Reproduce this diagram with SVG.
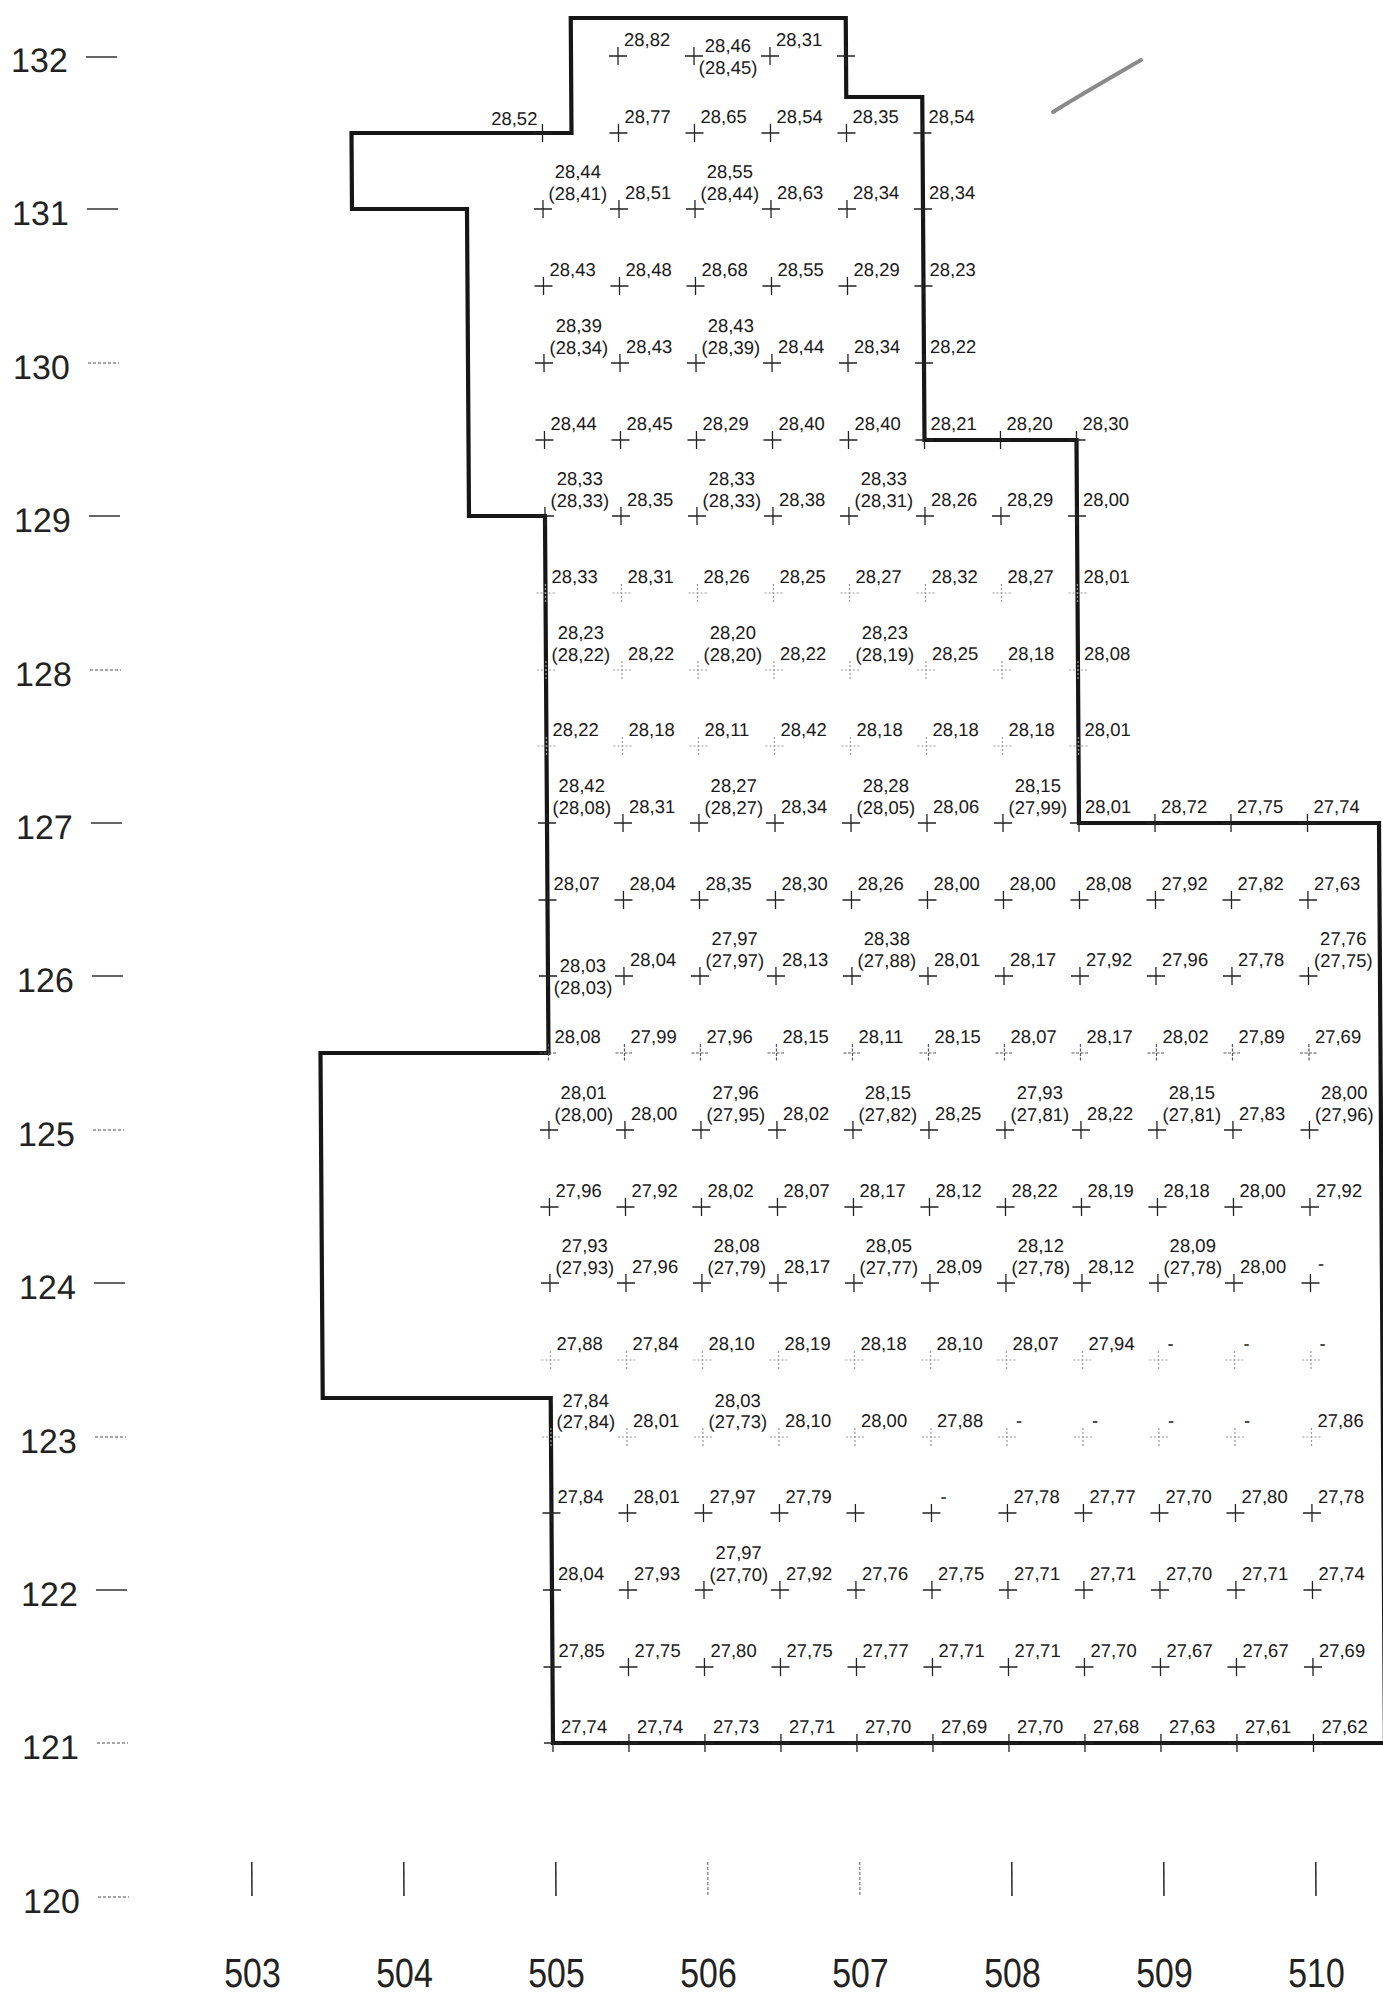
<svg xmlns="http://www.w3.org/2000/svg" width="1383" height="1993" viewBox="0 0 1383 1993">
<style>
.t{font-family:"Liberation Sans",Arial,sans-serif;font-size:18.5px;fill:#1a1a1a}
.m{text-anchor:middle}
.e{text-anchor:end}
.ax{font-family:"Liberation Sans",Arial,sans-serif;font-size:34px;fill:#222}
.axm{text-anchor:middle}
.c{stroke:#222;stroke-width:1.3;fill:none}
.f{stroke:#9a9a9a;stroke-width:1.2;fill:none;stroke-dasharray:2 2}
.md{stroke:#555;stroke-width:1.2;fill:none;stroke-dasharray:3 1.5}
.b{fill:none;stroke:#161616;stroke-width:4.2;stroke-linejoin:miter}
.tk{stroke:#333;stroke-width:1.6}
.tk2{stroke:#888;stroke-width:1.4;stroke-dasharray:3 2}
</style>
<defs>
<path id="c" d="M-9 0H9M0-9V9"/>
<g id="r4"><use href="#c" x="618"/><use href="#c" x="694"/><use href="#c" x="770"/><use href="#c" x="846"/></g>
<g id="r6"><use href="#c" x="542"/><use href="#r4"/><use href="#c" x="922"/></g>
<g id="r8"><use href="#r6"/><use href="#c" x="998"/><use href="#c" x="1074"/></g>
<g id="r11"><use href="#r8"/><use href="#c" x="1150"/><use href="#c" x="1226"/><use href="#c" x="1302.5"/></g>
</defs>
<rect width="1383" height="1993" fill="#fff"/>
<path d="M1053 112 C1080 95 1110 78 1141 60" fill="none" stroke="#8a8a8a" stroke-width="4" stroke-linecap="round"/>
<g id="page" transform="matrix(1 0 0.0065 1 -0.364 0)">
<g id="axis-left">
<text class="ax" x="11" y="72">132</text><line class="tk" x1="86" y1="57" x2="117" y2="57"/>
<text class="ax" x="11" y="225">131</text><line class="tk" x1="86" y1="209" x2="117" y2="209"/>
<text class="ax" x="11" y="379">130</text><line class="tk2" x1="86" y1="363" x2="117" y2="363"/>
<text class="ax" x="11" y="532">129</text><line class="tk" x1="86" y1="516" x2="117" y2="516"/>
<text class="ax" x="11" y="686">128</text><line class="tk2" x1="86" y1="670" x2="117" y2="670"/>
<text class="ax" x="11" y="839">127</text><line class="tk" x1="86" y1="823" x2="117" y2="823"/>
<text class="ax" x="11" y="992">126</text><line class="tk" x1="86" y1="976" x2="117" y2="976"/>
<text class="ax" x="11" y="1146">125</text><line class="tk2" x1="86" y1="1130" x2="117" y2="1130"/>
<text class="ax" x="11" y="1299">124</text><line class="tk" x1="86" y1="1283" x2="117" y2="1283"/>
<text class="ax" x="11" y="1453">123</text><line class="tk2" x1="86" y1="1437" x2="117" y2="1437"/>
<text class="ax" x="11" y="1606">122</text><line class="tk" x1="86" y1="1590" x2="117" y2="1590"/>
<text class="ax" x="11" y="1759">121</text><line class="tk2" x1="86" y1="1743" x2="117" y2="1743"/>
<text class="ax" x="11" y="1913">120</text><line class="tk2" x1="86" y1="1897" x2="117" y2="1897"/>
</g>
<g id="axis-bottom">
<line class="tk" x1="240" y1="1862" x2="240" y2="1896"/>
<line class="tk" x1="392" y1="1862" x2="392" y2="1896"/>
<line class="tk" x1="544" y1="1862" x2="544" y2="1896"/>
<line class="tk2" x1="696" y1="1862" x2="696" y2="1896"/>
<line class="tk2" x1="848" y1="1862" x2="848" y2="1896"/>
<line class="tk" x1="1000" y1="1862" x2="1000" y2="1896"/>
<line class="tk" x1="1152" y1="1862" x2="1152" y2="1896"/>
<line class="tk" x1="1304" y1="1862" x2="1304" y2="1896"/>
<text class="ax axm" transform="translate(240 1987) scale(1 1.2)">503</text>
<text class="ax axm" transform="translate(392 1987) scale(1 1.2)">504</text>
<text class="ax axm" transform="translate(544 1987) scale(1 1.2)">505</text>
<text class="ax axm" transform="translate(696 1987) scale(1 1.2)">506</text>
<text class="ax axm" transform="translate(848 1987) scale(1 1.2)">507</text>
<text class="ax axm" transform="translate(1000 1987) scale(1 1.2)">508</text>
<text class="ax axm" transform="translate(1152 1987) scale(1 1.2)">509</text>
<text class="ax axm" transform="translate(1304 1987) scale(1 1.2)">510</text>
</g>
<g id="boundary">
<path class="b" d="M571 18 H846 V97 H922 V440 H1074 V823 H1374 V1743 H542 V1398 H314 V1053 H542 V516 H466 V209 H351 V133 H571 Z"/>
</g>
<g id="crosses">
<use href="#r4" y="56" class="c"/>
<use href="#r6" y="133" class="c"/>
<use href="#r6" y="209" class="c"/>
<use href="#r6" y="286" class="c"/>
<use href="#r6" y="363" class="c"/>
<use href="#r8" y="440" class="c"/>
<use href="#r8" y="516" class="c"/>
<use href="#r8" y="593" class="f"/>
<use href="#r8" y="670" class="f"/>
<use href="#r8" y="746" class="f"/>
<use href="#r11" y="823" class="c"/>
<use href="#r11" y="900" class="c"/>
<use href="#r11" y="976" class="c"/>
<use href="#r11" y="1053" class="md"/>
<use href="#r11" y="1130" class="c"/>
<use href="#r11" y="1207" class="c"/>
<use href="#r11" y="1283" class="c"/>
<use href="#r11" y="1360" class="f"/>
<use href="#r11" y="1437" class="f"/>
<use href="#r11" y="1513" class="c"/>
<use href="#r11" y="1590" class="c"/>
<use href="#r11" y="1667" class="c"/>
<use href="#r11" y="1743" class="c"/>
</g>
<g id="labels" class="t">
<text x="624" y="46.5">28,82</text><text class="m" x="728" y="52">28,46</text><text class="m" x="728" y="74">(28,45)</text><text x="776" y="46.5">28,31</text>
<text class="e" x="537" y="125">28,52</text><text x="624" y="123.5">28,77</text><text x="700" y="123.5">28,65</text><text x="776" y="123.5">28,54</text><text x="852" y="123.5">28,35</text><text x="928" y="123.5">28,54</text>
<text class="m" x="577" y="178">28,44</text><text class="m" x="577" y="200">(28,41)</text><text x="624" y="199.5">28,51</text><text class="m" x="729" y="178">28,55</text><text class="m" x="729" y="200">(28,44)</text><text x="776" y="199.5">28,63</text><text x="852" y="199.5">28,34</text><text x="928" y="199.5">28,34</text>
<text x="548" y="276.5">28,43</text><text x="624" y="276.5">28,48</text><text x="700" y="276.5">28,68</text><text x="776" y="276.5">28,55</text><text x="852" y="276.5">28,29</text><text x="928" y="276.5">28,23</text>
<text class="m" x="577" y="332">28,39</text><text class="m" x="577" y="354">(28,34)</text><text x="624" y="353.5">28,43</text><text class="m" x="729" y="332">28,43</text><text class="m" x="729" y="354">(28,39)</text><text x="776" y="353.5">28,44</text><text x="852" y="353.5">28,34</text><text x="928" y="353.5">28,22</text>
<text x="548" y="430.5">28,44</text><text x="624" y="430.5">28,45</text><text x="700" y="430.5">28,29</text><text x="776" y="430.5">28,40</text><text x="852" y="430.5">28,40</text><text x="928" y="430.5">28,21</text><text x="1004" y="430.5">28,20</text><text x="1080" y="430.5">28,30</text>
<text class="m" x="577" y="485">28,33</text><text class="m" x="577" y="507">(28,33)</text><text x="624" y="506.5">28,35</text><text class="m" x="729" y="485">28,33</text><text class="m" x="729" y="507">(28,33)</text><text x="776" y="506.5">28,38</text><text class="m" x="881" y="485">28,33</text><text class="m" x="881" y="507">(28,31)</text><text x="928" y="506.5">28,26</text><text x="1004" y="506.5">28,29</text><text x="1080" y="506.5">28,00</text>
<text x="548" y="583.5">28,33</text><text x="624" y="583.5">28,31</text><text x="700" y="583.5">28,26</text><text x="776" y="583.5">28,25</text><text x="852" y="583.5">28,27</text><text x="928" y="583.5">28,32</text><text x="1004" y="583.5">28,27</text><text x="1080" y="583.5">28,01</text>
<text class="m" x="577" y="639">28,23</text><text class="m" x="577" y="661">(28,22)</text><text x="624" y="660.5">28,22</text><text class="m" x="729" y="639">28,20</text><text class="m" x="729" y="661">(28,20)</text><text x="776" y="660.5">28,22</text><text class="m" x="881" y="639">28,23</text><text class="m" x="881" y="661">(28,19)</text><text x="928" y="660.5">28,25</text><text x="1004" y="660.5">28,18</text><text x="1080" y="660.5">28,08</text>
<text x="548" y="736.5">28,22</text><text x="624" y="736.5">28,18</text><text x="700" y="736.5">28,11</text><text x="776" y="736.5">28,42</text><text x="852" y="736.5">28,18</text><text x="928" y="736.5">28,18</text><text x="1004" y="736.5">28,18</text><text x="1080" y="736.5">28,01</text>
<text class="m" x="577" y="792">28,42</text><text class="m" x="577" y="814">(28,08)</text><text x="624" y="813.5">28,31</text><text class="m" x="729" y="792">28,27</text><text class="m" x="729" y="814">(28,27)</text><text x="776" y="813.5">28,34</text><text class="m" x="881" y="792">28,28</text><text class="m" x="881" y="814">(28,05)</text><text x="928" y="813.5">28,06</text><text class="m" x="1033" y="792">28,15</text><text class="m" x="1033" y="814">(27,99)</text><text x="1080" y="813.5">28,01</text><text x="1156" y="813.5">28,72</text><text x="1232" y="813.5">27,75</text><text x="1308.5" y="813.5">27,74</text>
<text x="548" y="890.5">28,07</text><text x="624" y="890.5">28,04</text><text x="700" y="890.5">28,35</text><text x="776" y="890.5">28,30</text><text x="852" y="890.5">28,26</text><text x="928" y="890.5">28,00</text><text x="1004" y="890.5">28,00</text><text x="1080" y="890.5">28,08</text><text x="1156" y="890.5">27,92</text><text x="1232" y="890.5">27,82</text><text x="1308.5" y="890.5">27,63</text>
<text class="m" x="577" y="972">28,03</text><text class="m" x="577" y="994">(28,03)</text><text x="624" y="966.5">28,04</text><text class="m" x="729" y="945">27,97</text><text class="m" x="729" y="967">(27,97)</text><text x="776" y="966.5">28,13</text><text class="m" x="881" y="945">28,38</text><text class="m" x="881" y="967">(27,88)</text><text x="928" y="966.5">28,01</text><text x="1004" y="966.5">28,17</text><text x="1080" y="966.5">27,92</text><text x="1156" y="966.5">27,96</text><text x="1232" y="966.5">27,78</text><text class="m" x="1337.5" y="945">27,76</text><text class="m" x="1337.5" y="967">(27,75)</text>
<text x="548" y="1043.5">28,08</text><text x="624" y="1043.5">27,99</text><text x="700" y="1043.5">27,96</text><text x="776" y="1043.5">28,15</text><text x="852" y="1043.5">28,11</text><text x="928" y="1043.5">28,15</text><text x="1004" y="1043.5">28,07</text><text x="1080" y="1043.5">28,17</text><text x="1156" y="1043.5">28,02</text><text x="1232" y="1043.5">27,89</text><text x="1308.5" y="1043.5">27,69</text>
<text class="m" x="577" y="1099">28,01</text><text class="m" x="577" y="1121">(28,00)</text><text x="624" y="1120.5">28,00</text><text class="m" x="729" y="1099">27,96</text><text class="m" x="729" y="1121">(27,95)</text><text x="776" y="1120.5">28,02</text><text class="m" x="881" y="1099">28,15</text><text class="m" x="881" y="1121">(27,82)</text><text x="928" y="1120.5">28,25</text><text class="m" x="1033" y="1099">27,93</text><text class="m" x="1033" y="1121">(27,81)</text><text x="1080" y="1120.5">28,22</text><text class="m" x="1185" y="1099">28,15</text><text class="m" x="1185" y="1121">(27,81)</text><text x="1232" y="1120.5">27,83</text><text class="m" x="1337.5" y="1099">28,00</text><text class="m" x="1337.5" y="1121">(27,96)</text>
<text x="548" y="1197.5">27,96</text><text x="624" y="1197.5">27,92</text><text x="700" y="1197.5">28,02</text><text x="776" y="1197.5">28,07</text><text x="852" y="1197.5">28,17</text><text x="928" y="1197.5">28,12</text><text x="1004" y="1197.5">28,22</text><text x="1080" y="1197.5">28,19</text><text x="1156" y="1197.5">28,18</text><text x="1232" y="1197.5">28,00</text><text x="1308.5" y="1197.5">27,92</text>
<text class="m" x="577" y="1252">27,93</text><text class="m" x="577" y="1274">(27,93)</text><text x="624" y="1273.5">27,96</text><text class="m" x="729" y="1252">28,08</text><text class="m" x="729" y="1274">(27,79)</text><text x="776" y="1273.5">28,17</text><text class="m" x="881" y="1252">28,05</text><text class="m" x="881" y="1274">(27,77)</text><text x="928" y="1273.5">28,09</text><text class="m" x="1033" y="1252">28,12</text><text class="m" x="1033" y="1274">(27,78)</text><text x="1080" y="1273.5">28,12</text><text class="m" x="1185" y="1252">28,09</text><text class="m" x="1185" y="1274">(27,78)</text><text x="1232" y="1273.5">28,00</text><text x="1310" y="1270">-</text>
<text x="548" y="1350.5">27,88</text><text x="624" y="1350.5">27,84</text><text x="700" y="1350.5">28,10</text><text x="776" y="1350.5">28,19</text><text x="852" y="1350.5">28,18</text><text x="928" y="1350.5">28,10</text><text x="1004" y="1350.5">28,07</text><text x="1080" y="1350.5">27,94</text><text x="1159" y="1350.5">-</text><text x="1235" y="1350.5">-</text><text x="1311" y="1350.5">-</text>
<text class="m" x="577" y="1407">27,84</text><text class="m" x="577" y="1428">(27,84)</text><text x="624" y="1427.5">28,01</text><text class="m" x="729" y="1407">28,03</text><text class="m" x="729" y="1428">(27,73)</text><text x="776" y="1427.5">28,10</text><text x="852" y="1427.5">28,00</text><text x="928" y="1427.5">27,88</text><text x="1007" y="1427.5">-</text><text x="1083" y="1427.5">-</text><text x="1159" y="1427.5">-</text><text x="1235" y="1427.5">-</text><text x="1308.5" y="1427.5">27,86</text>
<text x="548" y="1503.5">27,84</text><text x="624" y="1503.5">28,01</text><text x="700" y="1503.5">27,97</text><text x="776" y="1503.5">27,79</text><text x="931" y="1503.5">-</text><text x="1004" y="1503.5">27,78</text><text x="1080" y="1503.5">27,77</text><text x="1156" y="1503.5">27,70</text><text x="1232" y="1503.5">27,80</text><text x="1308.5" y="1503.5">27,78</text>
<text x="548" y="1580.5">28,04</text><text x="624" y="1580.5">27,93</text><text class="m" x="729" y="1559">27,97</text><text class="m" x="729" y="1581">(27,70)</text><text x="776" y="1580.5">27,92</text><text x="852" y="1580.5">27,76</text><text x="928" y="1580.5">27,75</text><text x="1004" y="1580.5">27,71</text><text x="1080" y="1580.5">27,71</text><text x="1156" y="1580.5">27,70</text><text x="1232" y="1580.5">27,71</text><text x="1308.5" y="1580.5">27,74</text>
<text x="548" y="1657.5">27,85</text><text x="624" y="1657.5">27,75</text><text x="700" y="1657.5">27,80</text><text x="776" y="1657.5">27,75</text><text x="852" y="1657.5">27,77</text><text x="928" y="1657.5">27,71</text><text x="1004" y="1657.5">27,71</text><text x="1080" y="1657.5">27,70</text><text x="1156" y="1657.5">27,67</text><text x="1232" y="1657.5">27,67</text><text x="1308.5" y="1657.5">27,69</text>
<text x="550" y="1733.5">27,74</text><text x="626" y="1733.5">27,74</text><text x="702" y="1733.5">27,73</text><text x="778" y="1733.5">27,71</text><text x="854" y="1733.5">27,70</text><text x="930" y="1733.5">27,69</text><text x="1006" y="1733.5">27,70</text><text x="1082" y="1733.5">27,68</text><text x="1158" y="1733.5">27,63</text><text x="1234" y="1733.5">27,61</text><text x="1310.5" y="1733.5">27,62</text>
</g>
</g>
</svg>
